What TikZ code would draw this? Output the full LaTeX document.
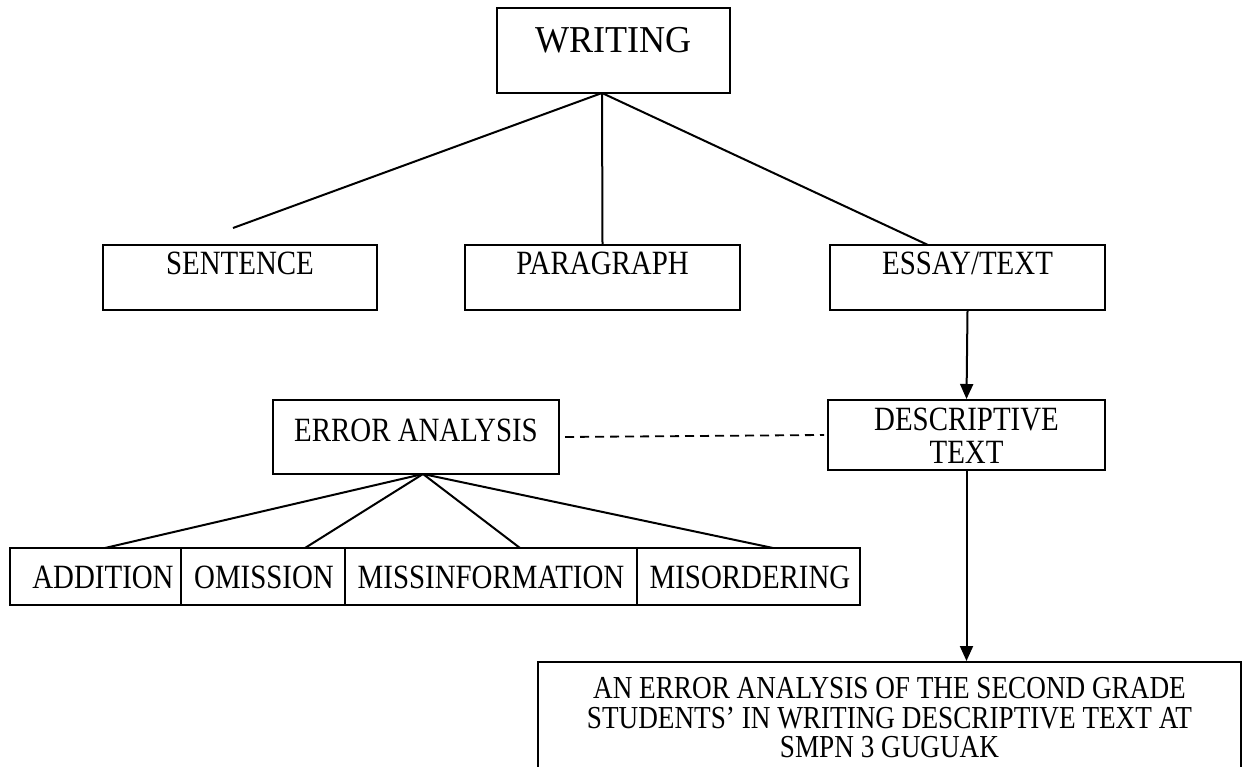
\documentclass[tikz,border=0pt]{standalone}
\usepackage{fontspec}
\setmainfont{Liberation Serif}
\newfontfamily\condfont[FakeStretch=0.85]{Liberation Serif}
\newfontfamily\finfont[FakeStretch=0.85]{Liberation Serif}
\newfontfamily\bigfont[FakeStretch=0.95]{Liberation Serif}
\usetikzlibrary{arrows.meta}
\begin{document}
\begin{tikzpicture}[x=1pt,y=-1pt,
  box/.style={draw,line width=2pt,rectangle,inner sep=0pt},
  txt/.style={font=\condfont\fontsize{34}{40}\selectfont,inner sep=0pt,align=center},
  fintxt/.style={font=\finfont\fontsize{32}{40}\selectfont,inner sep=0pt},
  link/.style={line width=2pt},
  arr/.style={line width=2pt,-{Triangle[length=15pt,width=13pt]}},
  dashlink/.style={line width=1.8pt,dash pattern=on 9pt off 6pt}]
\useasboundingbox (0,0) rectangle (1253,767);
\clip (0,0) rectangle (1253,767);
% top
\node[box,minimum width=233,minimum height=85] (writing) at (613.5,50.5) {};
\node[font=\bigfont\fontsize{38}{44}\selectfont,inner sep=0pt] at (613.5,40) {WRITING};
% level 2
\node[box,minimum width=274,minimum height=65] (sent) at (240,277.5) {};
\node[txt] at (240,263) {SENTENCE};
\node[box,minimum width=275,minimum height=65] (para) at (602.5,277.5) {};
\node[txt] at (602.5,263) {PARAGRAPH};
\node[box,minimum width=275,minimum height=65] (essay) at (967.5,277.5) {};
\node[txt] at (967.5,263) {ESSAY/TEXT};
\coordinate (wb) at (602,93);
\coordinate (sentend) at (233,228);
\draw[link] (wb) -- (sentend);
\draw[link] (wb) -- (para.north);
\draw[link] (wb) -- (928,245);
% level 3
\node[box,minimum width=277,minimum height=70] (desc) at (966.5,435) {};
\node[txt] at (966.5,420) {DESCRIPTIVE};
\node[txt] at (966.5,452) {TEXT};
\node[box,minimum width=286,minimum height=74] (err) at (416,437) {};
\node[txt] at (416,430) {ERROR ANALYSIS};
\draw[arr] (essay.south) -- (desc.north);
\draw[dashlink] ([xshift=5pt]err.east) -- ([xshift=-3pt]desc.west);
% bottom row
\node[box,minimum width=171,minimum height=57] (add) at (95.5,576.5) {};
\node[txt] at (103,577) {ADDITION};
\node[box,minimum width=164,minimum height=57] (omi) at (263,576.5) {};
\node[txt] at (264,577) {OMISSION};
\node[box,minimum width=292,minimum height=57] (mis) at (491,576.5) {};
\node[txt] at (491,577) {MISSINFORMATION};
\node[box,minimum width=223,minimum height=57] (mord) at (748.5,576.5) {};
\node[txt] at (750,577) {MISORDERING};
\coordinate (eb) at (423,474);
\draw[link] (eb) -- (105,548);
\draw[link] (eb) -- (305,548);
\draw[link] (eb) -- (520,548);
\draw[link] (eb) -- (773,548);
% final
\node[box,minimum width=703,minimum height=160] (final) at (889.5,742) {};
\node[fintxt] at (889.5,688) {AN ERROR ANALYSIS OF THE SECOND GRADE};
\node[fintxt] at (889.5,718) {STUDENTS’ IN WRITING DESCRIPTIVE TEXT AT};
\node[fintxt] at (889.5,747) {SMPN 3 GUGUAK};
\draw[arr] (desc.south) -- (desc.south |- final.north);
\end{tikzpicture}
\end{document}
